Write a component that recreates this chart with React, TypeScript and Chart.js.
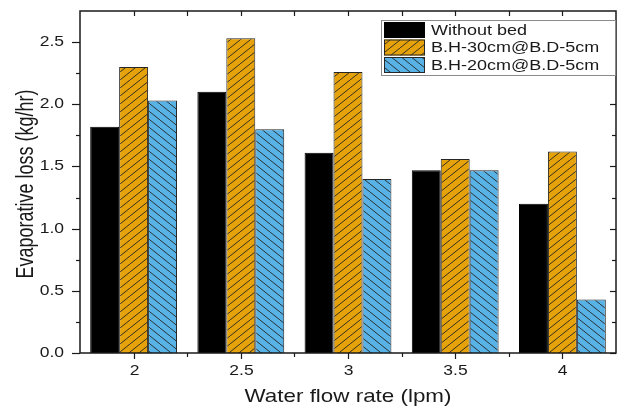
import React, { useEffect, useRef } from 'react';
import { Chart, registerables } from 'chart.js';

Chart.register(...registerables);

const categories = ['2', '2.5', '3', '3.5', '4'];
const withoutBed = [1.82, 2.1, 1.61, 1.47, 1.2];
const bh30 = [2.3, 2.53, 2.26, 1.56, 1.62];
const bh20 = [2.03, 1.8, 1.4, 1.47, 0.43];
const seriesLabels = ['Without bed', 'B.H-30cm@B.D-5cm', 'B.H-20cm@B.D-5cm'];
const yMin = 0;
const yMax = 2.75;
const yStep = 0.25;
const yLabelStep = 0.5;
const xTitle = 'Water flow rate (lpm)';
const yTitle = 'Evaporative loss (kg/hr)';

const FONT = "'Liberation Sans', Arial, Helvetica, sans-serif";
const TEXT = '#1a1a1a';
const AXIS = '#1a1a1a';

function hatch(bg: string, dir: '/' | '\\') {
  const w = 10, h = 8;
  const c = document.createElement('canvas');
  c.width = w; c.height = h;
  const g = c.getContext('2d')!;
  g.fillStyle = bg; g.fillRect(0, 0, w, h);
  g.strokeStyle = 'rgba(35,35,35,0.9)';
  g.lineWidth = 1;
  g.beginPath();
  for (const o of [-w, 0, w]) {
    if (dir === '/') { g.moveTo(o, h); g.lineTo(o + w, 0); }
    else { g.moveTo(o, 0); g.lineTo(o + w, h); }
  }
  g.stroke();
  return g.createPattern(c, 'repeat')!;
}

function sText(ctx: CanvasRenderingContext2D, text: string, x: number, y: number, size: number, sx: number, align: CanvasTextAlign, baseline: CanvasTextBaseline) {
  ctx.save();
  ctx.translate(x, y);
  ctx.scale(sx, 1);
  ctx.font = `${size}px ${FONT}`;
  ctx.fillStyle = TEXT;
  ctx.textAlign = align;
  ctx.textBaseline = baseline;
  ctx.fillText(text, 0, 0);
  ctx.restore();
}

function seg(ctx: CanvasRenderingContext2D, x1: number, y1: number, x2: number, y2: number) {
  ctx.beginPath(); ctx.moveTo(x1, y1); ctx.lineTo(x2, y2); ctx.stroke();
}

const framePlugin = {
  id: 'frame',
  afterDraw(chart: any) {
    const ctx: CanvasRenderingContext2D = chart.ctx;
    const a = chart.chartArea;
    const x = chart.scales.x;
    const y = chart.scales.y;
    ctx.save();
    ctx.strokeStyle = AXIS;
    ctx.lineWidth = 1.2;
    // y ticks and labels
    y.ticks.forEach((t: any) => {
      if (t.value >= yMax - 1e-9) return;
      const py = Math.round(y.getPixelForValue(t.value)) + 0.5;
      const r = t.value / yLabelStep;
      const major = Math.abs(r - Math.round(r)) < 1e-6;
      seg(ctx, a.left - (major ? 8 : 4), py, a.left, py);
      seg(ctx, a.right, py, a.right - (major ? 6 : 4), py);
      if (major) sText(ctx, t.value.toFixed(1), a.left - 16, py, 14, 1.25, 'right', 'middle');
    });
    // x ticks and labels
    const labels: string[] = chart.data.labels;
    const n = labels.length;
    for (let i = 0; i < n; i++) {
      const px = Math.round(x.getPixelForTick(i)) + 0.5;
      seg(ctx, px, a.bottom, px, a.bottom + 6);
      seg(ctx, px, a.top, px, a.top + 5);
      sText(ctx, String(labels[i]), px, a.bottom + 18, 14, 1.25, 'center', 'middle');
      if (i < n - 1) {
        const mx = Math.round((x.getPixelForTick(i) + x.getPixelForTick(i + 1)) / 2) + 0.5;
        seg(ctx, mx, a.bottom, mx, a.bottom + 4);
        seg(ctx, mx, a.top, mx, a.top + 5);
      }
    }
    // frame
    ctx.lineWidth = 1.5;
    ctx.strokeRect(a.left, a.top, a.right - a.left, a.bottom - a.top);
    // titles
    sText(ctx, xTitle, (a.left + a.right) / 2, a.bottom + 44, 18.5, 1.21, 'center', 'middle');
    ctx.save();
    ctx.translate(33, (a.top + a.bottom) / 2 + 2);
    ctx.rotate(-Math.PI / 2);
    ctx.scale(1, 1.28);
    ctx.font = `18px ${FONT}`;
    ctx.fillStyle = TEXT;
    ctx.textAlign = 'center';
    ctx.textBaseline = 'alphabetic';
    ctx.fillText(yTitle, 0, 0);
    ctx.restore();
    // legend
    const lx = 381, ly = 20, lw = 234, lh = 55;
    ctx.fillStyle = '#ffffff';
    ctx.fillRect(lx, ly, lw, lh);
    ctx.strokeStyle = '#8a8a8a';
    ctx.lineWidth = 1;
    ctx.strokeRect(lx + 0.5, ly + 0.5, lw, lh);
    const rows = [22, 39.5, 57];
    chart.data.datasets.forEach((ds: any, i: number) => {
      const ry = rows[i];
      ctx.fillStyle = ds.backgroundColor;
      ctx.fillRect(384, ry, 41, 16);
      ctx.strokeStyle = ds.borderColor;
      ctx.lineWidth = 1;
      ctx.strokeRect(384.5, ry + 0.5, 40, 15);
      sText(ctx, ds.label, 431, ry + 8.5, 14.5, 1.24, 'left', 'middle');
    });
    ctx.restore();
  },
};

export default function App() {
  const ref = useRef<HTMLCanvasElement>(null);
  useEffect(() => {
    const canvas = ref.current!;
    const chart = new Chart(canvas, {
      type: 'bar',
      data: {
        labels: categories,
        datasets: [
          { label: seriesLabels[0], data: withoutBed, backgroundColor: '#000000', borderColor: '#000000', borderWidth: 1 },
          { label: seriesLabels[1], data: bh30, backgroundColor: hatch('#E6A20A', '/'), borderColor: '#262626', borderWidth: 1 },
          { label: seriesLabels[2], data: bh20, backgroundColor: hatch('#58B2E6', '\\'), borderColor: '#262626', borderWidth: 1 },
        ],
      },
      options: {
        responsive: false,
        animation: false,
        devicePixelRatio: 1,
        layout: { padding: { top: 11, right: 2, left: 0, bottom: 0 } },
        datasets: { bar: { categoryPercentage: 0.81, barPercentage: 1 } },
        plugins: { legend: { display: false }, tooltip: { enabled: false } },
        scales: {
          x: {
            type: 'category',
            offset: true,
            grid: { display: false },
            border: { display: false },
            ticks: { display: false },
            afterFit: (s: any) => { s.height = 54; },
          },
          y: {
            min: yMin,
            max: yMax,
            ticks: { display: false, stepSize: yStep },
            grid: { display: false },
            border: { display: false },
            afterFit: (s: any) => { s.width = 80; },
          },
        },
      } as any,
      plugins: [framePlugin],
    });
    return () => chart.destroy();
  }, []);
  return (
    <div style={{ position: 'fixed', left: 0, top: 0, width: 618, height: 407, background: '#fff' }}>
      <canvas ref={ref} width={618} height={407} style={{ display: 'block' }} />
    </div>
  );
}
